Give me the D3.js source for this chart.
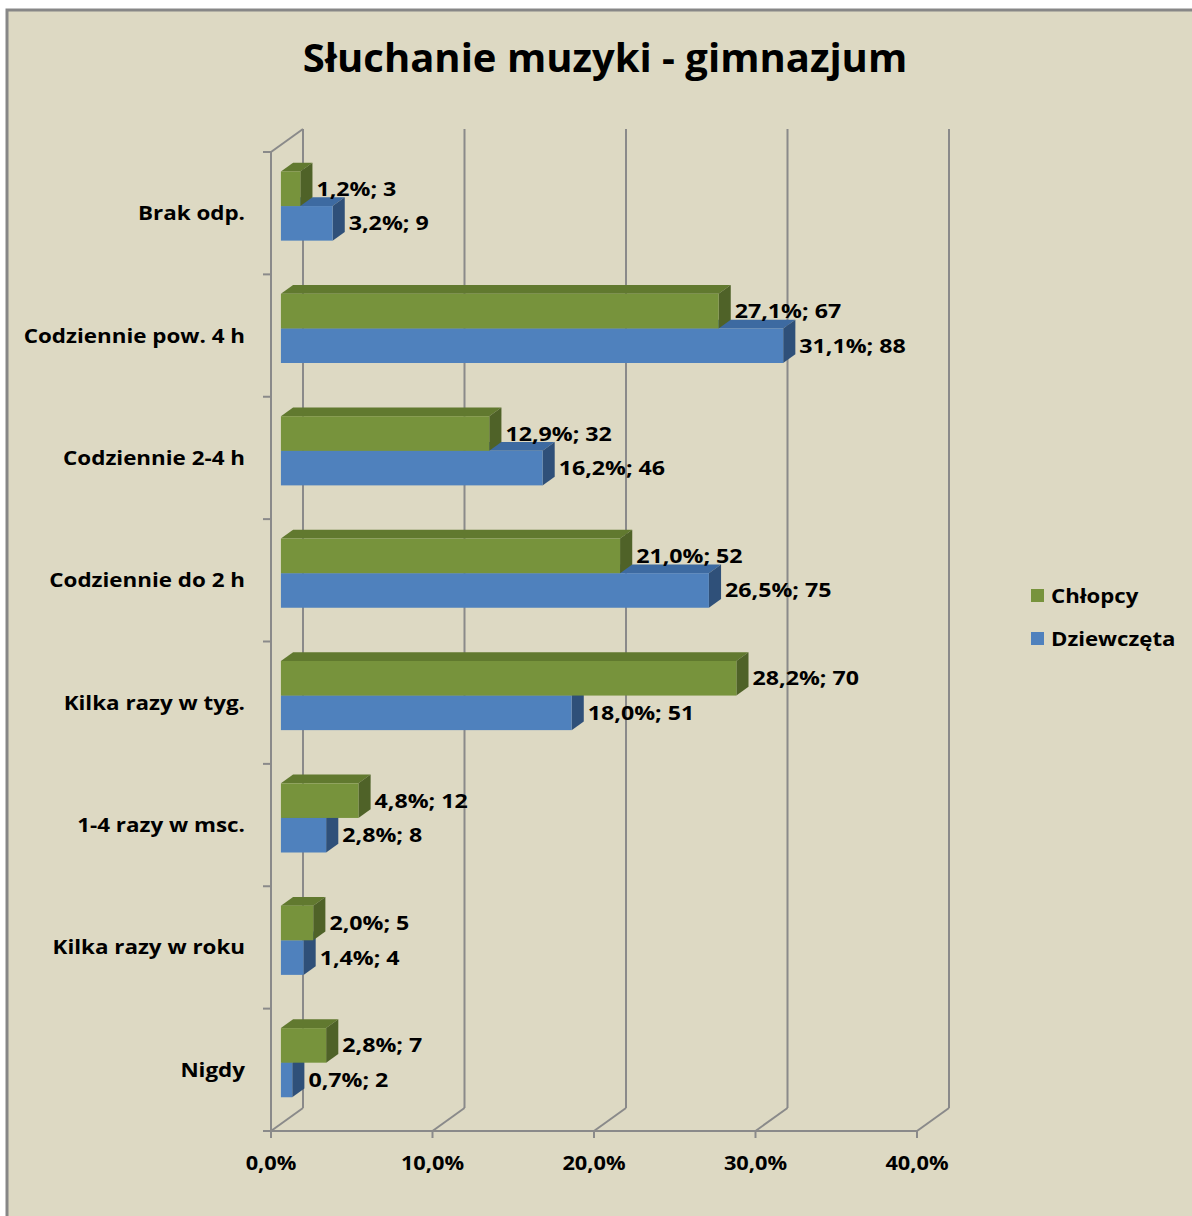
<!DOCTYPE html>
<html><head><meta charset="utf-8">
<script src="https://cdn.jsdelivr.net/npm/d3@7"></script>
<style>body{margin:0;background:#fff}svg{display:block}text{font-family:"Open Sans",sans-serif;font-weight:700;fill:#000}</style>
</head><body>
<script>
const categories = ["Brak odp.","Codziennie pow. 4 h","Codziennie 2-4 h","Codziennie do 2 h","Kilka razy w tyg.","1-4 razy w msc.","Kilka razy w roku","Nigdy"];
const series = ["Chłopcy","Dziewczęta"];
const boysPct = [1.2,27.1,12.9,21.0,28.2,4.8,2.0,2.8];
const boysN = [3,67,32,52,70,12,5,7];
const girlsPct = [3.2,31.1,16.2,26.5,18.0,2.8,1.4,0.7];
const girlsN = [9,88,46,75,51,8,4,2];
const xTicks = [0,10,20,30,40];
const title = "Słuchanie muzyki - gimnazjum";

const W=1192,H=1216;
const svg=d3.select("body").append("svg").attr("width",W).attr("height",H);
svg.append("rect").attr("x",7).attr("y",10).attr("width",1200).attr("height",1230)
  .attr("fill","#DDD9C3").attr("stroke","#878787").attr("stroke-width",3);

function txt(parent,x,y,s,size,anchor,sx){
  return parent.append("text").attr("transform",`translate(${x},${y}) scale(${sx},1)`)
    .attr("text-anchor",anchor).attr("font-size",size).text(s);
}

const x=d3.scaleLinear().domain([0,40]).range([271,917]);
const y=d3.scaleBand().domain(categories).range([152,1131]).paddingInner(0).paddingOuter(0);
const sub=d3.scaleBand().domain(series).range([0,y.bandwidth()]).paddingInner(0).paddingOuter(0.77);
const DX=32,DY=-23;           // wall depth
const F0=0.31, F1=0.69;        // bar front/back depth fractions
const grid="#8a8a8a";

const g=svg.append("g");
xTicks.forEach(t=>{
  g.append("line").attr("x1",x(t)+DX).attr("x2",x(t)+DX).attr("y1",1131+DY).attr("y2",152+DY)
   .attr("stroke",grid).attr("stroke-width",2);
  g.append("line").attr("x1",x(t)).attr("x2",x(t)+DX).attr("y1",1131).attr("y2",1131+DY)
   .attr("stroke",grid).attr("stroke-width",2);
});
g.append("line").attr("x1",x(0)).attr("x2",x(0)).attr("y1",152).attr("y2",1131).attr("stroke",grid).attr("stroke-width",2);
g.append("line").attr("x1",x(0)).attr("x2",x(0)+DX).attr("y1",152).attr("y2",152+DY).attr("stroke",grid).attr("stroke-width",2);
g.append("line").attr("x1",x(0)-8).attr("x2",x(40)).attr("y1",1131).attr("y2",1131).attr("stroke",grid).attr("stroke-width",2);
xTicks.forEach(t=>{
  g.append("line").attr("x1",x(t)).attr("x2",x(t)).attr("y1",1131).attr("y2",1138).attr("stroke",grid).attr("stroke-width",2);
  txt(g,x(t),1170,t.toFixed(1).replace(".",",")+"%",20,"middle",1.09);
});
categories.concat(["__end"]).forEach((c,i)=>{
  const yy = i<categories.length? y(c) : 1131;
  g.append("line").attr("x1",x(0)-8).attr("x2",x(0)).attr("y1",yy).attr("y2",yy).attr("stroke",grid).attr("stroke-width",2);
});
categories.forEach(c=>{
  txt(g,245,y(c)+y.bandwidth()/2+7,c,20,"end",1.12);
});

const colors={
  "Chłopcy":{front:"#77933C",top:"#61792F",side:"#4F6228"},
  "Dziewczęta":{front:"#4F81BD",top:"#3D6AA1",side:"#2F5079"}
};
const offX=DX*F0, offY=DY*F0, bdx=DX*(F1-F0), bdy=DY*(F1-F0);
const fmt=v=>v.toFixed(1).replace(".",",")+"%";

categories.forEach((c,i)=>{
  const recs=[
    {s:"Dziewczęta",v:girlsPct[i],n:girlsN[i]},
    {s:"Chłopcy",v:boysPct[i],n:boysN[i]}
  ];
  recs.forEach(r=>{
    const col=colors[r.s];
    const x0=x(0)+offX, x1=x(r.v)+offX;
    const y0=y(c)+sub(r.s)+offY, y1=y0+sub.bandwidth();
    const bg=g.append("g");
    bg.append("polygon").attr("points",[[x0,y0],[x1,y0],[x1+bdx,y0+bdy],[x0+bdx,y0+bdy]].join(" ")).attr("fill",col.top);
    bg.append("polygon").attr("points",[[x1,y0],[x1+bdx,y0+bdy],[x1+bdx,y1+bdy],[x1,y1]].join(" ")).attr("fill",col.side);
    bg.append("rect").attr("x",x0).attr("y",y0).attr("width",x1-x0).attr("height",y1-y0).attr("fill",col.front);
  });
  recs.forEach(r=>{
    const x1=x(r.v)+offX;
    const y0=y(c)+sub(r.s)+offY;
    txt(g,x1+bdx+4,y0+sub.bandwidth()/2+7,fmt(r.v)+"; "+r.n,20,"start",1.16);
  });
});

txt(svg,605,72,title,40,"middle",1.0);

series.forEach((s,i)=>{
  const ly=596+i*43;
  svg.append("rect").attr("x",1031).attr("y",ly-7).attr("width",13).attr("height",13).attr("fill",colors[s].front);
  txt(svg,1051,ly+7,s,20,"start",1.11);
});
</script>
</body></html>
